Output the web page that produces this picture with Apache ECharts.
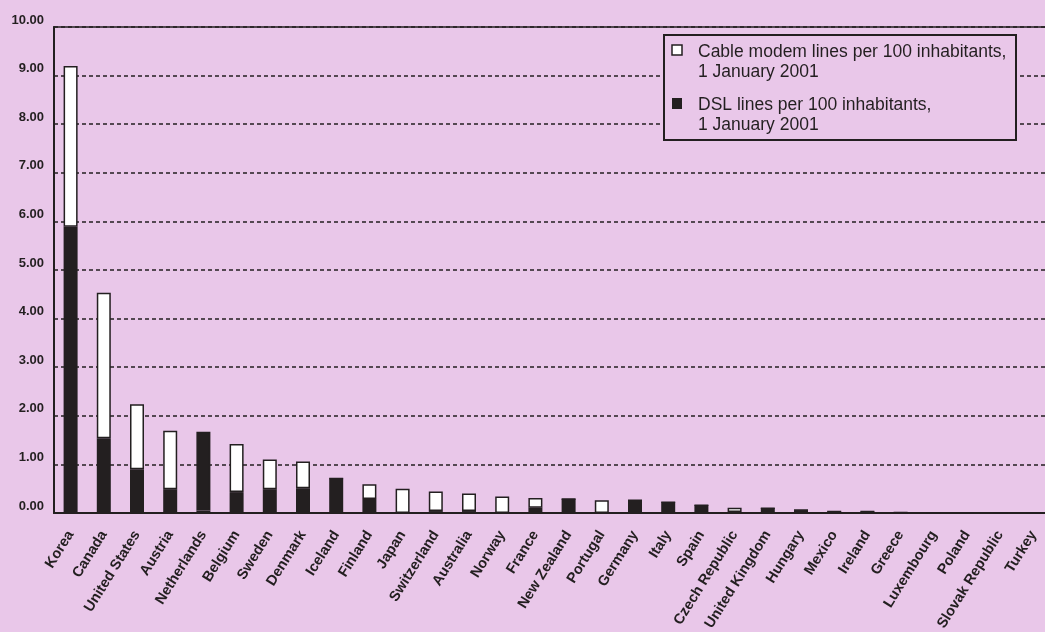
<!DOCTYPE html>
<html><head><meta charset="utf-8">
<script src="https://cdn.jsdelivr.net/npm/echarts@6/dist/echarts.min.js"></script>
<style>html,body{margin:0;padding:0;background:#e9c7e9}#c{width:1045px;height:632px}</style>
</head><body><div id="c"></div><script>
const categories = ["Korea","Canada","United States","Austria","Netherlands","Belgium","Sweden","Denmark","Iceland","Finland","Japan","Switzerland","Australia","Norway","France","New Zealand","Portugal","Germany","Italy","Spain","Czech Republic","United Kingdom","Hungary","Mexico","Ireland","Greece","Luxembourg","Poland","Slovak Republic","Turkey"];
const dslValues = [5.89,1.54,0.90,0.49,0.05,0.43,0.49,0.51,0.71,0.29,0,0.04,0.04,0,0.11,0.29,0,0.26,0.22,0.16,0.02,0.10,0.06,0.03,0.03,0.01,0,0,0,0];
const cableValues = [3.31,2.99,1.34,1.20,1.62,0.99,0.61,0.55,0,0.30,0.50,0.40,0.36,0.34,0.20,0,0.26,0,0,0,0.09,0,0,0,0,0,0,0,0,0];
const yTicks = [0,1,2,3,4,5,6,7,8,9,10];
const legendLabels = ["Cable modem lines per 100 inhabitants,\n1 January 2001","DSL lines per 100 inhabitants,\n1 January 2001"];
// Netherlands cable segment is drawn dark in the source
const darkCableItems = ["Netherlands"];

const DARK = '#231f20', BG = '#e9c7e9';
const FONT = '"Liberation Sans", Arial, sans-serif';
const chart = echarts.init(document.getElementById('c'), null, {renderer:'canvas'});
chart.setOption({
  backgroundColor: BG,
  animation: false,
  grid: {left:54, top:27, width:996, bottom:119, show:true, borderColor:DARK, borderWidth:1.5, backgroundColor:'transparent', outerBoundsMode:'none'},
  xAxis: {
    type:'category', data:categories,
    axisLine:{lineStyle:{color:DARK,width:2}},
    axisTick:{show:false},
    axisLabel:{interval:0, rotate:58, fontSize:14.5, fontWeight:'bold', color:DARK, fontFamily:FONT, margin:19}
  },
  yAxis: {
    type:'value', min:yTicks[0], max:yTicks[yTicks.length-1], interval:1,
    axisLine:{show:true, lineStyle:{color:DARK,width:2}},
    axisTick:{show:false},
    splitLine:{lineStyle:{color:DARK,width:1.5,type:[4,3]}},
    axisLabel:{formatter:v=>v.toFixed(2), fontSize:13, fontWeight:'bold', color:DARK, fontFamily:FONT, margin:10, verticalAlign:'bottom', lineHeight:14}
  },
  series: [
    {name:'DSL', type:'bar', stack:'t', barWidth:14, data:dslValues,
     itemStyle:{color:DARK}},
    {name:'Cable', type:'bar', stack:'t', barWidth:14,
     data:cableValues.map((v,i)=> darkCableItems.includes(categories[i]) ? {value:v, itemStyle:{color:DARK}} : v),
     itemStyle:{color:'#ffffff', borderColor:DARK, borderWidth:1.5}}
  ],
  graphic: [
    {type:'rect', z:100, shape:{x:664,y:35,width:352,height:105}, style:{fill:BG, stroke:DARK, lineWidth:2}},
    {type:'rect', z:101, shape:{x:672,y:45,width:10,height:10}, style:{fill:'#fff', stroke:DARK, lineWidth:1.5}},
    {type:'rect', z:101, shape:{x:672,y:98,width:10,height:11}, style:{fill:DARK}},
    {type:'text', z:101, x:698, y:42, style:{text:legendLabels[0], fill:DARK, font:'17.5px '+FONT, lineHeight:20}},
    {type:'text', z:101, x:698, y:95, style:{text:legendLabels[1], fill:DARK, font:'17.5px '+FONT, lineHeight:20}}
  ]
});
</script></body></html>
